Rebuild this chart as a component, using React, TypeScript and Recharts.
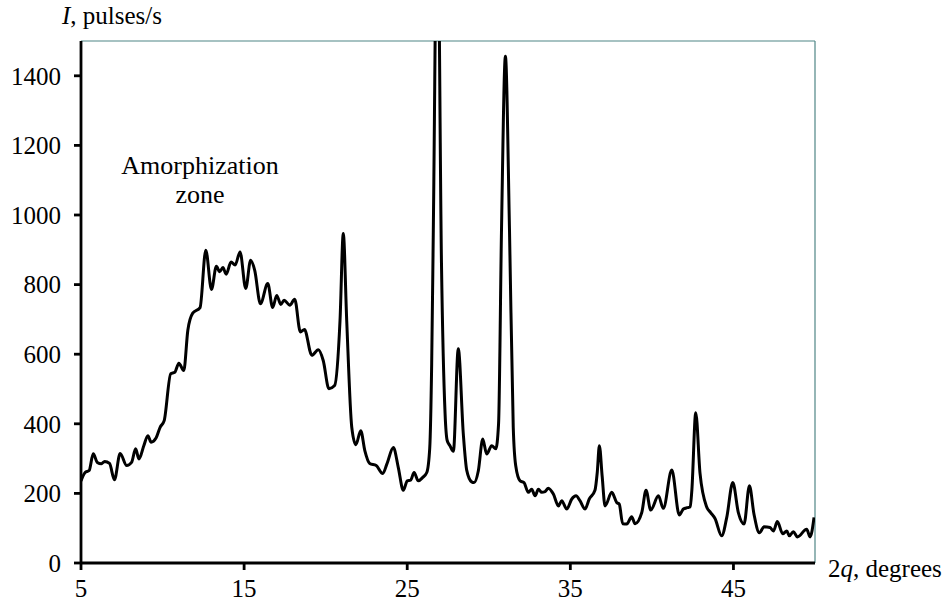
import React from 'react';
import { LineChart, Line, XAxis, YAxis, ReferenceLine } from 'recharts';

const twoTheta = [
  5.0, 5.25, 5.5, 5.75, 6.0, 6.25, 6.45, 6.75, 7.05, 7.4, 7.8, 8.1, 8.35, 8.55, 8.85, 9.1, 9.3, 9.6, 9.85, 10.1,
  10.5, 10.75, 11.0, 11.3, 11.55, 11.85, 12.3, 12.65, 13.0, 13.3, 13.5, 13.7, 13.9, 14.2, 14.45, 14.75, 15.1, 15.4, 15.65, 16.0,
  16.45, 16.75, 17.0, 17.25, 17.45, 17.8, 18.1, 18.45, 18.7, 19.15, 19.55, 19.85, 20.2, 20.55, 20.88, 21.08, 21.29, 21.6, 21.85, 22.15,
  22.4, 22.7, 23.1, 23.5, 23.75, 24.15, 24.45, 24.76, 25.0, 25.21, 25.42, 25.68, 25.95, 26.2, 26.38, 26.5, 26.6, 26.85, 27.1, 27.32,
  27.45, 27.62, 27.83, 28.13, 28.44, 28.65, 28.95, 29.1, 29.36, 29.63, 29.87, 30.18, 30.43, 30.6, 30.78, 31.02, 31.27, 31.5, 31.65, 31.92,
  32.16, 32.42, 32.63, 32.84, 33.04, 33.25, 33.45, 33.65, 33.96, 34.27, 34.47, 34.78, 35.09, 35.35, 35.59, 35.9, 36.16, 36.51, 36.65, 36.78,
  36.95, 37.13, 37.54, 37.84, 38.0, 38.21, 38.46, 38.76, 38.97, 39.38, 39.64, 39.93, 40.4, 40.7, 41.22, 41.68, 41.93, 42.17, 42.35, 42.45,
  42.69, 42.95, 43.36, 43.6, 43.87, 44.28, 44.59, 44.96, 45.3, 45.65, 45.98, 46.26, 46.59, 46.88, 47.24, 47.45, 47.69, 48.02, 48.27, 48.43,
  48.67, 48.92, 49.49, 49.7, 49.94,
];

const intensity = [
  236, 260, 266, 314, 289, 285, 292, 286, 239, 315, 280, 289, 328, 299, 337, 366, 347, 359, 390, 409,
  544, 548, 574, 553, 669, 718, 734, 899, 786, 853, 837, 849, 830, 865, 856, 894, 789, 870, 841, 745,
  803, 734, 769, 743, 755, 741, 758, 664, 671, 597, 613, 582, 501, 510, 697, 947, 697, 390, 340, 380,
  323, 286, 280, 257, 284, 332, 275, 209, 236, 238, 260, 236, 246, 260, 330, 574, 957, 1950, 861, 430,
  352, 337, 321, 616, 370, 266, 233, 231, 265, 356, 313, 337, 328, 400, 957, 1456, 957, 390, 280, 236,
  231, 203, 212, 193, 212, 203, 205, 215, 198, 164, 179, 155, 184, 193, 179, 155, 184, 209, 260, 337,
  250, 164, 203, 174, 169, 113, 112, 133, 113, 145, 209, 152, 193, 157, 267, 138, 155, 159, 161, 209,
  432, 258, 161, 145, 128, 78, 131, 231, 145, 112, 222, 140, 87, 104, 102, 92, 119, 84, 92, 78,
  90, 75, 97, 75, 131,
];

const xTicks = [5, 15, 25, 35, 45];
const yTicks = [0, 200, 400, 600, 800, 1000, 1200, 1400];

const data = twoTheta.map((x, i) => ({ x, y: intensity[i] }));

const font = '"Liberation Serif", "Times New Roman", serif';
const tickStyle = { fontFamily: font, fontSize: 25, fill: '#000' };

export default function App() {
  return (
    <div style={{ position: 'absolute', left: 0, top: 0, width: 949, height: 603, background: '#fff', fontFamily: font, color: '#000' }}>
      <LineChart width={949} height={603} data={data} margin={{ top: 41, right: 134, bottom: 0, left: 0 }}>
        <XAxis
          dataKey="x"
          type="number"
          domain={[5, 50]}
          ticks={xTicks}
          allowDataOverflow
          height={40}
          tick={tickStyle}
          tickSize={7}
          tickMargin={9}
          axisLine={{ stroke: '#000', strokeWidth: 2.8 }}
          tickLine={{ stroke: '#000', strokeWidth: 2.8 }}
        />
        <YAxis
          type="number"
          domain={[0, 1500]}
          ticks={yTicks}
          allowDataOverflow
          width={81}
          tick={tickStyle}
          tickSize={7}
          tickMargin={13}
          axisLine={{ stroke: '#000', strokeWidth: 2.8 }}
          tickLine={{ stroke: '#000', strokeWidth: 2.8 }}
        />
        <ReferenceLine y={1500} stroke="#4f8585" strokeWidth={1.2} />
        <ReferenceLine x={50} stroke="#4f8585" strokeWidth={1.2} />
        <Line
          type="monotone"
          dataKey="y"
          stroke="#000"
          strokeWidth={3}
          dot={false}
          isAnimationActive={false}
        />
      </LineChart>
      <div style={{ position: 'absolute', left: 62, top: 2, fontSize: 25, whiteSpace: 'nowrap' }}>
        <i>I</i>, pulses/s
      </div>
      <div style={{ position: 'absolute', left: 828, top: 555, fontSize: 25, whiteSpace: 'nowrap' }}>
        2<i>q</i>, degrees
      </div>
      <div style={{ position: 'absolute', left: 100, top: 151, width: 200, fontSize: 26, lineHeight: '29px', textAlign: 'center' }}>
        Amorphization
        <br />
        zone
      </div>
    </div>
  );
}
